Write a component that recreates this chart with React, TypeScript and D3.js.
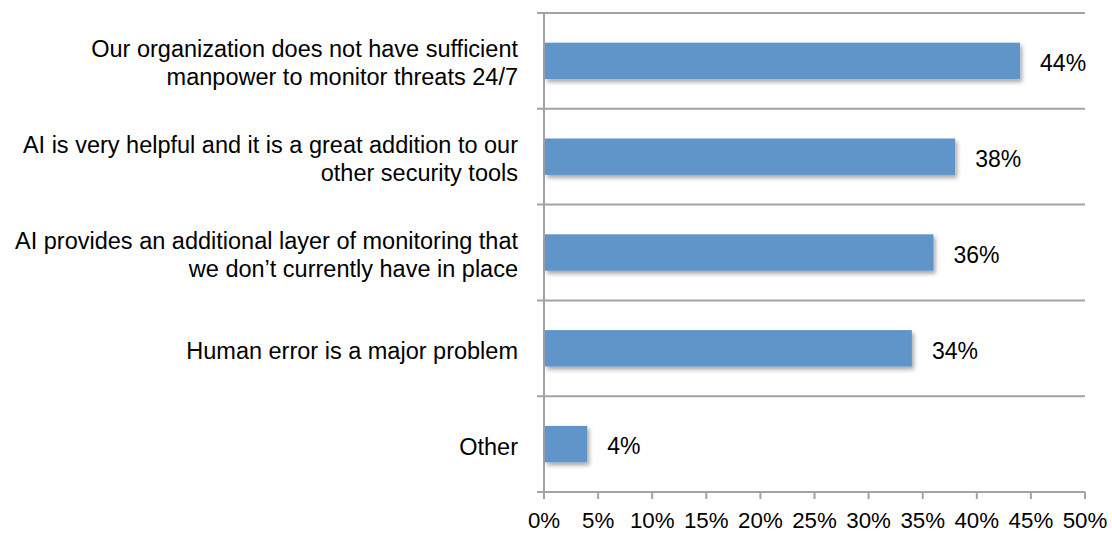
import * as d3 from 'd3'

const categories = [
  ['Our organization does not have sufficient', 'manpower to monitor threats 24/7'],
  ['AI is very helpful and it is a great addition to our', 'other security tools'],
  ['AI provides an additional layer of monitoring that', 'we don’t currently have in place'],
  ['Human error is a major problem'],
  ['Other'],
]
const values = [44, 38, 36, 34, 4]
const xTicks = [0, 5, 10, 15, 20, 25, 30, 35, 40, 45, 50]

const W = 1112
const H = 534
const left = 544
const right = 1085
const top = 13
const bottom = 492
const FONT = 'Liberation Sans, Arial, Helvetica, sans-serif'
const GRID = '#a3a3a3'

export default function App() {
  const x = d3.scaleLinear().domain([0, 50]).range([left, right])
  const idx = values.map((_, i) => String(i))
  const y = d3.scaleBand().domain(idx).range([top, bottom]).paddingInner(0).paddingOuter(0)
  const barH = y.bandwidth() * 0.38
  const bounds = [...idx.map((d) => y(d)!), bottom]

  return (
    <svg width={W} height={H} style={{ position: 'absolute', left: 0, top: 0 }}>
      <defs>
        <filter id="sh" x="-10%" y="-20%" width="130%" height="160%">
          <feDropShadow dx="2" dy="3" stdDeviation="2" floodColor="#000" floodOpacity="0.35" />
        </filter>
      </defs>
      {bounds.map((b, i) => (
        <line key={i} x1={left - 7} x2={right} y1={b} y2={b} stroke={GRID} strokeWidth={2} />
      ))}
      <line x1={left} x2={left} y1={top} y2={bottom + 7} stroke={GRID} strokeWidth={2} />
      {xTicks.map((t) => (
        <g key={t}>
          <line x1={x(t)} x2={x(t)} y1={bottom} y2={bottom + 7} stroke={GRID} strokeWidth={2} />
          <text x={x(t)} y={528} textAnchor="middle" fontFamily={FONT} fontSize={22.3} fill="#000">
            {t}%
          </text>
        </g>
      ))}
      {values.map((v, i) => {
        const cy = y(String(i))! + y.bandwidth() / 2
        const lines = categories[i]
        return (
          <g key={i}>
            <rect
              x={x(0) + 1}
              y={cy - barH / 2}
              width={x(v) - x(0) - 1}
              height={barH}
              fill="#5f95c9"
              filter="url(#sh)"
            />
            <text x={x(v) + 20} y={cy} dy="0.45em" fontFamily={FONT} fontSize={23} fill="#000">
              {v}%
            </text>
            {lines.map((l, j) => (
              <text
                key={j}
                x={518}
                y={cy + (j - (lines.length - 1) / 2) * 28}
                dy="0.45em"
                textAnchor="end"
                fontFamily={FONT}
                fontSize={23.5}
                fill="#000"
              >
                {l}
              </text>
            ))}
          </g>
        )
      })}
    </svg>
  )
}
